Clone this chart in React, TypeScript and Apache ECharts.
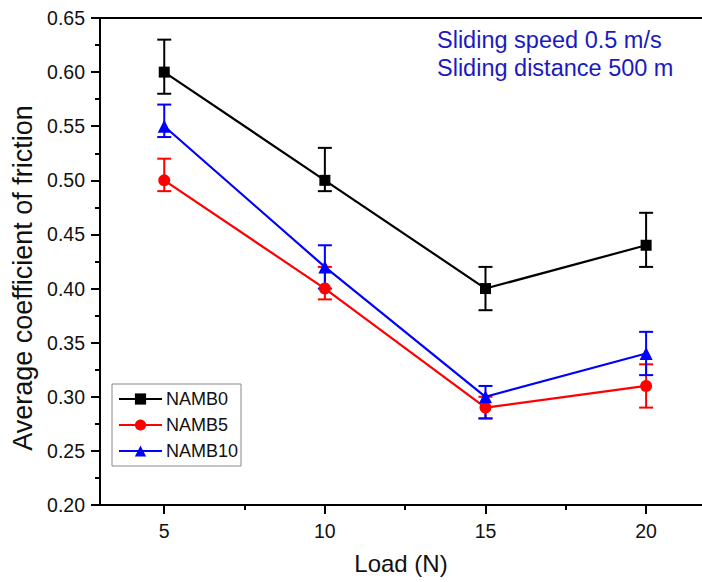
import React, { useEffect, useRef } from "react";
import * as echarts from "echarts";

const loads = [5, 10, 15, 20];
const seriesNames = ["NAMB0", "NAMB5", "NAMB10"];
const namb0 = [0.6, 0.5, 0.4, 0.44];
const namb0Low = [0.58, 0.49, 0.38, 0.42];
const namb0High = [0.63, 0.53, 0.42, 0.47];
const namb5 = [0.5, 0.4, 0.29, 0.31];
const namb5Low = [0.49, 0.39, 0.28, 0.29];
const namb5High = [0.52, 0.42, 0.3, 0.33];
const namb10 = [0.55, 0.42, 0.3, 0.34];
const namb10Low = [0.54, 0.4, 0.28, 0.32];
const namb10High = [0.57, 0.44, 0.31, 0.36];
const majorXTicks = [5, 10, 15, 20];
const minorXTicks = [7.5, 12.5, 17.5];
const noteLines = ["Sliding speed 0.5 m/s", "Sliding distance 500 m"];
const yTitle = "Average coefficient of friction";
const xTitle = "Load (N)";

const colors = ["#000000", "#ff0000", "#0000ff"];
const symbols = ["rect", "circle", "triangle"];
const symbolSizes = [11, 12, 13];
const FONT = "Liberation Sans, Arial, sans-serif";

export default function App() {
  const ref = useRef<HTMLDivElement>(null);
  useEffect(() => {
    if (!ref.current) return;
    const chart = echarts.init(ref.current, null, { renderer: "svg" });
    const values = [namb0, namb5, namb10];
    const lows = [namb0Low, namb5Low, namb10Low];
    const highs = [namb0High, namb5High, namb10High];

    const errSeries = seriesNames.map((name, i) => ({
      type: "custom",
      name: name + "_err",
      xAxisIndex: 0,
      yAxisIndex: 0,
      z: 3,
      silent: true,
      data: loads.map((x, j) => [x, lows[i][j], highs[i][j]]),
      encode: { x: 0, y: [1, 2] },
      renderItem: (params: any, api: any) => {
        const x = api.value(0);
        const pLo = api.coord([x, api.value(1)]);
        const pHi = api.coord([x, api.value(2)]);
        const hw = 7;
        const st = { stroke: colors[i], lineWidth: 2 };
        return {
          type: "group",
          children: [
            { type: "line", shape: { x1: pHi[0], y1: pHi[1], x2: pLo[0], y2: pLo[1] }, style: st },
            { type: "line", shape: { x1: pHi[0] - hw, y1: pHi[1], x2: pHi[0] + hw, y2: pHi[1] }, style: st },
            { type: "line", shape: { x1: pLo[0] - hw, y1: pLo[1], x2: pLo[0] + hw, y2: pLo[1] }, style: st },
          ],
        };
      },
    }));

    const lineSeries = seriesNames.map((name, i) => ({
      type: "line",
      name,
      xAxisIndex: 0,
      yAxisIndex: 0,
      z: 4,
      data: loads.map((x, j) => [x, values[i][j]]),
      symbol: symbols[i],
      symbolSize: symbolSizes[i],
      showAllSymbol: true,
      lineStyle: { color: colors[i], width: 2.2 },
      itemStyle: { color: colors[i] },
    }));

    chart.setOption({
      animation: false,
      backgroundColor: "#ffffff",
      textStyle: { fontFamily: FONT },
      grid: { left: 100, right: 0, top: 18, bottom: 77, containLabel: false },
      legend: {
        orient: "vertical",
        left: 112,
        top: 384,
        padding: [6, 3, 6, 6],
        itemWidth: 43,
        itemHeight: 14,
        itemGap: 8,
        borderColor: "#888888",
        borderWidth: 1,
        borderRadius: 0,
        data: seriesNames,
        textStyle: { fontFamily: FONT, fontSize: 18, lineHeight: 14, color: "#111", padding: [0, 0, 0, -1] },
      },
      graphic: [
        ...noteLines.map((t, k) => ({
          type: "text",
          left: 437,
          top: 28 + k * 28,
          style: { text: t, fill: "#1a1ac0", font: `23.5px ${FONT}` },
        })),
        {
          type: "text",
          x: 23,
          y: 278,
          rotation: Math.PI / 2,
          style: {
            text: yTitle,
            fill: "#111",
            font: `27px ${FONT}`,
            align: "center",
            verticalAlign: "middle",
          },
        },
      ],
      xAxis: [
        {
          type: "value",
          position: "bottom",
          min: 3,
          max: 21.74,
          name: xTitle,
          nameLocation: "middle",
          nameGap: 46,
          nameTextStyle: { fontSize: 24, color: "#111", fontFamily: FONT },
          axisLine: { show: true, onZero: false, lineStyle: { color: "#000", width: 2 } },
          axisTick: { show: true, customValues: majorXTicks, length: 9, lineStyle: { color: "#000", width: 2 } },
          axisLabel: { show: true, customValues: majorXTicks, margin: 16, fontSize: 19.5, color: "#111", fontFamily: FONT },
          splitLine: { show: false },
        },
        {
          type: "value",
          position: "bottom",
          min: 3,
          max: 21.74,
          axisLine: { show: false, onZero: false },
          axisTick: { show: true, customValues: minorXTicks, length: 5, lineStyle: { color: "#000", width: 2 } },
          axisLabel: { show: false },
          splitLine: { show: false },
        },
        {
          type: "value",
          position: "top",
          min: 3,
          max: 21.74,
          axisLine: { show: true, onZero: false, lineStyle: { color: "#000", width: 2 } },
          axisTick: { show: false },
          axisLabel: { show: false },
          splitLine: { show: false },
        },
      ],
      yAxis: [
        {
          type: "value",
          min: 0.2,
          max: 0.65,
          interval: 0.05,
          axisLine: { show: true, onZero: false, lineStyle: { color: "#000", width: 2 } },
          axisTick: { show: true, length: 9, lineStyle: { color: "#000", width: 2 } },
          minorTick: { show: true, splitNumber: 2, length: 5, lineStyle: { color: "#000", width: 2 } },
          axisLabel: {
            margin: 15,
            fontSize: 19.5,
            color: "#111",
            fontFamily: FONT,
            formatter: (v: number) => v.toFixed(2),
          },
          splitLine: { show: false },
        },
      ],
      series: [...errSeries, ...lineSeries],
    });
    return () => chart.dispose();
  }, []);
  return (
    <div
      ref={ref}
      style={{ position: "fixed", left: 0, top: 0, width: 702, height: 582, background: "#fff" }}
    />
  );
}
